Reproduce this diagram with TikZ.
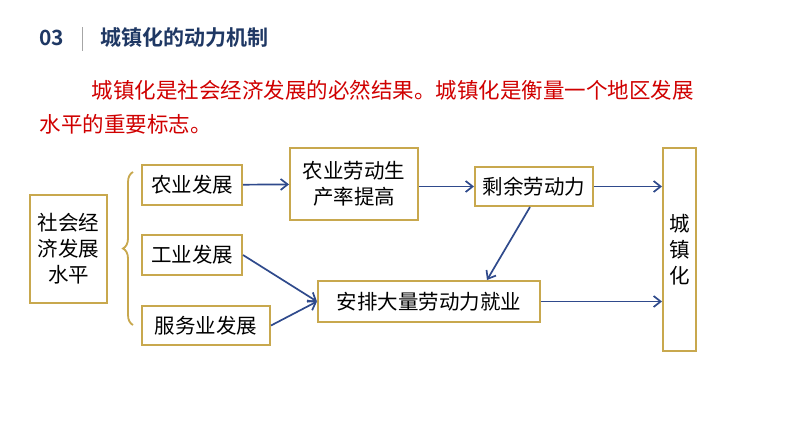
\documentclass[tikz,border=0pt]{standalone}
\usepackage{fontspec}
\setmainfont{Noto Sans CJK SC}[BoldFont={Noto Sans CJK SC Bold}]
\usetikzlibrary{arrows.meta,decorations.pathreplacing}
\definecolor{bx}{HTML}{C8A84E}
\definecolor{ar}{HTML}{2F4A8C}
\definecolor{navy}{HTML}{1F3864}
\definecolor{rd}{HTML}{D00000}
\tikzset{
 boxn/.style={draw=bx,line width=2pt,inner sep=0pt,align=center,font=\fontsize{20.5}{26}\selectfont},
 arr/.style={draw=ar,line width=1.7pt,-{Straight Barb[length=7pt,width=11pt]}}
}
\begin{document}
\begin{tikzpicture}[x=1pt,y=-1pt]
\useasboundingbox[fill=white] (0,0) rectangle (794,447);
\node[anchor=west,text=navy,font=\fontsize{21}{24}\selectfont\bfseries] (n03) at (36,38) {03};
\draw[gray!70,line width=1pt] (82,27) -- (82,51);
\node[anchor=west,text=navy,font=\fontsize{21}{24}\selectfont\bfseries] (tt) at (97,38) {城镇化的动力机制};
\node[anchor=west,text=rd,font=\fontsize{21.5}{24}\selectfont] (p1) at (88,90) {城镇化是社会经济发展的必然结果。城镇化是衡量一个地区发展};
\node[anchor=west,text=rd,font=\fontsize{21.5}{24}\selectfont] (p2) at (36,124) {水平的重要标志。};
\node[boxn,minimum width=77pt,minimum height=108pt] (s) at (68.5,249) {社会经\\济发展\\水平};
\node[boxn,minimum width=100pt,minimum height=40pt] (ny) at (192,185) {农业发展};
\node[boxn,minimum width=100pt,minimum height=40pt] (gy) at (192,255) {工业发展};
\node[boxn,minimum width=128pt,minimum height=39pt] (fw) at (206,325.5) {服务业发展};
\node[boxn,minimum width=128pt,minimum height=72pt] (ld) at (354,184) {农业劳动生\\产率提高};
\node[boxn,minimum width=118pt,minimum height=39pt] (sy) at (534,186.5) {剩余劳动力};
\node[boxn,minimum width=33pt,minimum height=203pt] (cz) at (679.5,249.5) {城\\镇\\化};
\node[boxn,minimum width=222pt,minimum height=41pt] (ap) at (429,301.5) {安排大量劳动力就业};
\draw[bx,line width=1.8pt,decorate,decoration={brace,amplitude=10pt,mirror}] (133,172) -- (133,325);
\draw[arr] (ny) -- (ld);
\draw[arr] (ld.east|-sy) -- (sy);
\draw[arr] (sy) -- (cz.west|-sy);
\draw[arr] (sy.south) ++(-4,0) coordinate (sa) (sa) -- ([xshift=58pt]ap.north);
\draw[arr] (gy.east) -- (ap.west);
\draw[arr] (fw.east) -- (ap.west);
\draw[arr] (ap.east) -- (cz.west|-ap.east);
\end{tikzpicture}
\end{document}
